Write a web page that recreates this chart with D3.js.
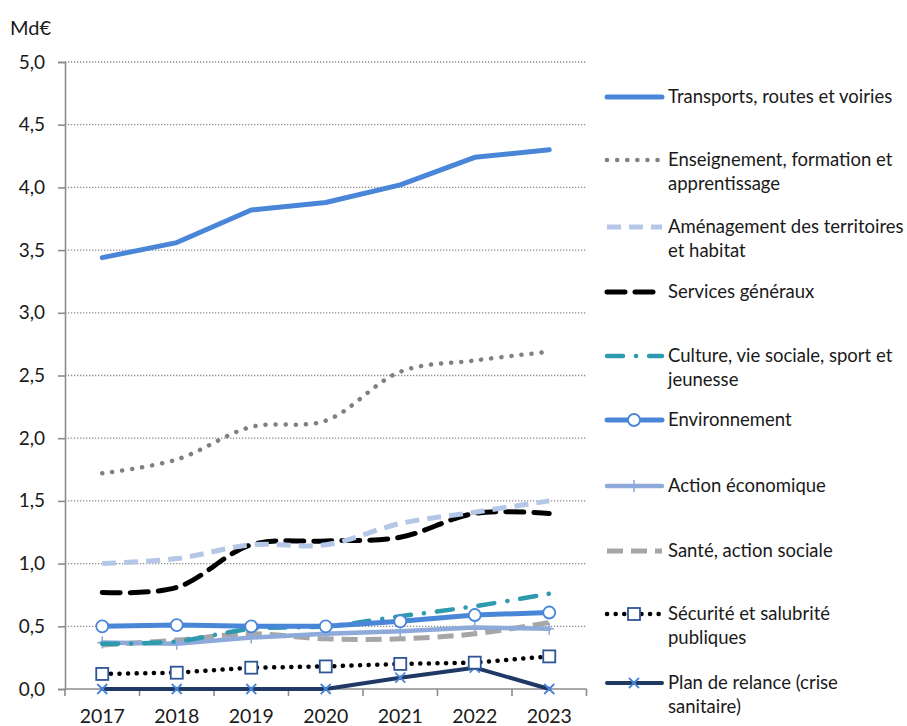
<!DOCTYPE html>
<html><head><meta charset="utf-8">
<script src="https://cdn.jsdelivr.net/npm/d3@7"></script>
<style>body{margin:0;background:#fff;} svg{display:block;font-family:Lato,"Open Sans",sans-serif;}</style>
</head><body><svg id="c" width="907" height="726"></svg>
<script>
const years = ["2017","2018","2019","2020","2021","2022","2023"];
const yTicks = [0,0.5,1,1.5,2,2.5,3,3.5,4,4.5,5];
const seriesNames = ["Transports, routes et voiries","Enseignement, formation et apprentissage","Aménagement des territoires et habitat","Services généraux","Culture, vie sociale, sport et jeunesse","Environnement","Action économique","Santé, action sociale","Sécurité et salubrité publiques","Plan de relance (crise sanitaire)"];
const legendLines = [["Transports, routes et voiries"],["Enseignement, formation et","apprentissage"],["Aménagement des territoires","et habitat"],["Services généraux"],["Culture, vie sociale, sport et","jeunesse"],["Environnement"],["Action économique"],["Santé, action sociale"],["Sécurité et salubrité","publiques"],["Plan de relance (crise","sanitaire)"]];
const transports   = [3.44,3.56,3.82,3.88,4.02,4.24,4.30];
const enseignement = [1.72,1.83,2.09,2.14,2.53,2.62,2.69];
const amenagement  = [1.00,1.04,1.15,1.15,1.32,1.41,1.50];
const services     = [0.77,0.81,1.15,1.18,1.21,1.40,1.40];
const culture      = [0.36,0.38,0.48,0.50,0.58,0.66,0.76];
const environnement= [0.50,0.51,0.50,0.50,0.54,0.59,0.61];
const actionEco    = [0.37,0.36,0.41,0.44,0.46,0.49,0.48];
const sante        = [0.35,0.39,0.44,0.40,0.40,0.44,0.53];
const securite     = [0.12,0.13,0.17,0.18,0.20,0.21,0.26];
const relance      = [0,0,0,0,0.09,0.17,0];

const values = [transports,enseignement,amenagement,services,culture,environnement,actionEco,sante,securite,relance];
const styles = [
 {color:"#4a86d8", w:5, dash:null, cap:"round", smooth:false},
 {color:"#808080", w:4.5, dash:"0.1 10", cap:"round", smooth:true},
 {color:"#b4c7e7", w:5, dash:"14 8", cap:"butt", smooth:true},
 {color:"#000000", w:5, dash:"18 10", cap:"round", smooth:true},
 {color:"#2e9aae", w:4.5, dash:"16 13 0.1 13", cap:"round", smooth:true},
 {color:"#4a86d8", w:5, dash:null, cap:"round", smooth:false, marker:"circle"},
 {color:"#8eaadb", w:4.5, dash:null, cap:"round", smooth:false, marker:"plus"},
 {color:"#a6a6a6", w:5, dash:"16 8", cap:"butt", smooth:true},
 {color:"#000000", w:4.5, dash:"0.1 8.5", cap:"round", smooth:false, marker:"square"},
 {color:"#1f3864", w:4, dash:null, cap:"round", smooth:false, marker:"x"}
];

const svg = d3.select("#c");
const x0=65, x1=586.5, yTop=62, yBot=689;
const x = d3.scalePoint().domain(years).range([x0,x1]).padding(0.5);
const xb = d3.scaleBand().domain(years).range([x0,x1]);
const y = d3.scaleLinear().domain([0,5]).range([yBot,yTop]);
const txt = "#1a1a1a";

// gridlines
svg.append("g").selectAll("line").data(yTicks.filter(d=>d>0)).join("line")
  .attr("x1",x0).attr("x2",x1).attr("y1",d=>y(d)).attr("y2",d=>y(d))
  .attr("stroke","#8c8c8c").attr("stroke-width",1.3).attr("stroke-dasharray","1.3 1.7");

// y axis
const ya = svg.append("g").attr("transform",`translate(${x0},0)`)
  .call(d3.axisLeft(y).tickValues(yTicks).tickSize(7).tickPadding(13).tickFormat(d=>d.toFixed(1).replace(".",",")));
ya.select(".domain").attr("stroke","#8c8c8c").attr("stroke-width",1.6);
ya.selectAll(".tick line").attr("stroke","#8c8c8c").attr("stroke-width",1.6);
ya.selectAll("text").attr("font-size",19).attr("fill",txt).attr("font-family","Lato,sans-serif");

// x axis
const xa = svg.append("g").attr("transform",`translate(0,${yBot})`);
xa.append("line").attr("x1",x0).attr("x2",x1).attr("stroke","#8c8c8c").attr("stroke-width",1.6);
xa.selectAll("line.tk").data(years.concat(["end"])).join("line").attr("class","tk")
  .attr("x1",d=>d==="end"?x1:xb(d)).attr("x2",d=>d==="end"?x1:xb(d)).attr("y1",0).attr("y2",7)
  .attr("stroke","#8c8c8c").attr("stroke-width",1.6);
xa.selectAll("text").data(years).join("text").attr("x",d=>x(d)).attr("y",34)
  .attr("text-anchor","middle").attr("font-size",19.5).attr("fill",txt).text(d=>d);

svg.append("text").attr("x",10).attr("y",35).attr("font-size",20).attr("fill",txt).text("Md€");

function drawMarker(g, type, cx, cy, st){
  if(type==="circle") g.append("circle").attr("cx",cx).attr("cy",cy).attr("r",6).attr("fill","#fff").attr("stroke",st.color).attr("stroke-width",1.8);
  else if(type==="plus"){ g.append("path").attr("d",`M${cx-5},${cy}H${cx+5}M${cx},${cy-6}V${cy+6}`).attr("stroke",st.color).attr("stroke-width",1.6); }
  else if(type==="square") g.append("rect").attr("x",cx-6).attr("y",cy-6).attr("width",12).attr("height",12).attr("fill","#fff").attr("stroke","#2f5597").attr("stroke-width",1.8);
  else if(type==="x") g.append("path").attr("d",`M${cx-5},${cy-5}L${cx+5},${cy+5}M${cx-5},${cy+5}L${cx+5},${cy-5}`).attr("stroke","#4a86d8").attr("stroke-width",1.8);
}

const order = [9,8,7,6,4,5,3,2,1,0];
order.forEach(i=>{
  const st = styles[i];
  const line = d3.line().x((d,j)=>x(years[j])).y(d=>y(d)).curve(st.smooth? d3.curveCatmullRom.alpha(0.5): d3.curveLinear);
  const g = svg.append("g");
  g.append("path").datum(values[i]).attr("d",line).attr("fill","none").attr("stroke",st.color)
    .attr("stroke-width",st.w).attr("stroke-linecap",st.cap).attr("stroke-linejoin","round")
    .attr("stroke-dasharray",st.dash);
  if(st.marker) values[i].forEach((v,j)=>drawMarker(g,st.marker,x(years[j]),y(v),st));
});

// legend
const legY = [97,160,227,292,356,420,486,551,614,683];
const lg = svg.append("g");
seriesNames.forEach((n,i)=>{
  const st = styles[i], ly = legY[i];
  const g = lg.append("g");
  g.append("line").attr("x1",607).attr("x2",662).attr("y1",ly).attr("y2",ly)
    .attr("stroke",st.color).attr("stroke-width",st.w).attr("stroke-linecap",st.cap).attr("stroke-dasharray",st.dash);
  if(st.marker) drawMarker(g,st.marker,634,ly,st);
  legendLines[i].forEach((t,k)=>{
    g.append("text").attr("x",668).attr("y",ly+6+k*24).attr("font-size",18.5).attr("fill",txt).text(t);
  });
});
</script></body></html>
